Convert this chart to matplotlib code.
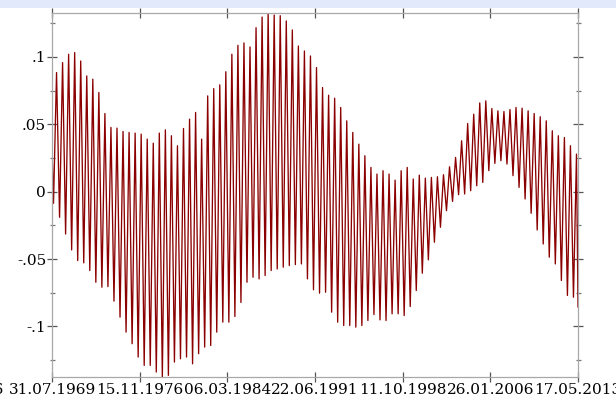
import numpy as np
import matplotlib
matplotlib.use("Agg")
import matplotlib.pyplot as plt
import matplotlib.dates as mdates
from matplotlib.ticker import FixedLocator, MultipleLocator, NullLocator
from matplotlib.patches import Rectangle
from datetime import datetime

# ---------------- data ----------------
start_date = "1969-07-31"
end_date = "2013-05-17"
n_cycles = 87

start_value = 0.033
end_value = -0.0855

troughs = [
    -0.0086, -0.0190, -0.0314, -0.0432, -0.0511, -0.0528, -0.0585, -0.0672, -0.0709, -0.0704,
    -0.0812, -0.0931, -0.1042, -0.1128, -0.1227, -0.1289, -0.1289, -0.1338, -0.1375, -0.1363,
    -0.1264, -0.1240, -0.1227, -0.1277, -0.1202, -0.1153, -0.1141, -0.1042, -0.0968,
    -0.0968, -0.0926, -0.0822, -0.0672, -0.0635, -0.0647, -0.0622, -0.0585, -0.0573, -0.0560,
    -0.0548, -0.0541, -0.0536, -0.0647, -0.0728, -0.0753, -0.0746, -0.0894, -0.0968, -0.0993,
    -0.0993, -0.1005, -0.0993, -0.0956, -0.0911, -0.0951, -0.0956, -0.0906, -0.0906,
    -0.0919, -0.0852, -0.0733, -0.0605, -0.0506, -0.0375, -0.0264, -0.0141, -0.0072, -0.0022,
    -0.0017, 0.0007, 0.0044, 0.0069, 0.0156, 0.0210, 0.0230, 0.0205, 0.0119, 0.0032,
    -0.0054, -0.0160, -0.0284, -0.0388, -0.0486, -0.0536, -0.0659, -0.0770, -0.0783,
]

peaks = [
    0.0884, 0.0958, 0.1020, 0.1032, 0.0970, 0.0859, 0.0835, 0.0736, 0.0580, 0.0477,
    0.0472, 0.0447, 0.0440, 0.0435, 0.0427, 0.0390, 0.0360, 0.0435, 0.0459, 0.0415,
    0.0341, 0.0469, 0.0538, 0.0588, 0.0390, 0.0711, 0.0765, 0.0793, 0.0890,
    0.1020, 0.1086, 0.1104, 0.1074, 0.1217, 0.1296, 0.1326, 0.1311, 0.1306, 0.1267,
    0.1200, 0.1081, 0.1044, 0.1007, 0.0921, 0.0773, 0.0716, 0.0694, 0.0625, 0.0526,
    0.0440, 0.0353, 0.0267, 0.0180, 0.0131, 0.0156, 0.0131, 0.0086, 0.0156,
    0.0180, 0.0094, 0.0123, 0.0101, 0.0106, 0.0111, 0.0126, 0.0185, 0.0254, 0.0378,
    0.0506, 0.0575, 0.0659, 0.0674, 0.0617, 0.0600, 0.0595, 0.0610, 0.0625, 0.0620,
    0.0600, 0.0580, 0.0556, 0.0526, 0.0452, 0.0415, 0.0402, 0.0341, 0.0279,
]

tick_dates = ["1969-07-31", "1976-11-15", "1984-03-06", "1991-06-22",
              "1998-10-11", "2006-01-26", "2013-05-17"]
tick_labels = ["31.07.1969", "15.11.1976", "06.03.1984", "22.06.1991",
               "11.10.1998", "26.01.2006", "17.05.2013"]
edge_label = "15.04.1966"

ytick_values = [-0.1, -0.05, 0.0, 0.05, 0.1]
ytick_labels = ["-.1", "-.05", "0", ".05", ".1"]

# ---------------- build series ----------------
t0 = mdates.date2num(datetime.fromisoformat(start_date))
t1 = mdates.date2num(datetime.fromisoformat(end_date))
values = [start_value]
for tr, pk in zip(troughs, peaks):
    values += [tr, pk]
values.append(end_value)
frac = np.concatenate([[0.0], (np.arange(2 * n_cycles) * 0.5 + 0.25) / n_cycles, [1.0]])
times = t0 + frac * (t1 - t0)

# ---------------- figure ----------------
W, H = 616, 403
fig = plt.figure(figsize=(W / 100, H / 100), dpi=100)
fig.patch.set_facecolor("white")
fig.patches.append(Rectangle((0, 1 - 8 / H), 1, 8 / H, transform=fig.transFigure,
                             facecolor="#e1e9fa", edgecolor="none", zorder=0))

ax = fig.add_axes([52 / W, 26 / H, (578 - 52) / W, (377 - 13) / H])
ax.plot(times, values, color="#8b0000", lw=0.95, antialiased=True)

ax.set_xlim(t0, t1)
ax.set_ylim(min(values), max(values))

serif = "DejaVu Serif"
tick_nums = [mdates.date2num(datetime.fromisoformat(d)) for d in tick_dates]
ax.xaxis.set_major_locator(FixedLocator(tick_nums))
ax.set_xticklabels(tick_labels, fontfamily=serif, fontsize=11)
ax.xaxis.set_minor_locator(NullLocator())

ax.yaxis.set_major_locator(FixedLocator(ytick_values))
ax.set_yticklabels(ytick_labels, fontfamily=serif, fontsize=11)
ax.yaxis.set_minor_locator(MultipleLocator(0.025))

for s in ax.spines.values():
    s.set_color("#a8a8a8")
    s.set_linewidth(0.9)

ax.tick_params(which="major", direction="inout", length=7.2, width=0.9, color="#555555",
               top=True, right=True, labeltop=False, labelright=False, pad=0.6,
               labelcolor="black")
ax.tick_params(which="minor", direction="inout", length=3.6, width=0.9, color="#777777",
               left=True, right=True)

# partially visible label of the preceding tick at the left edge
prev_tick = tick_nums[0] - (tick_nums[1] - tick_nums[0])
ax.annotate(edge_label, xy=(prev_tick, 0), xycoords=("data", "axes fraction"),
            xytext=(-3, -4.2), textcoords="offset points",
            ha="center", va="top", fontfamily=serif, fontsize=11, annotation_clip=False)

fig.savefig("out.png", dpi=100, facecolor="white")
